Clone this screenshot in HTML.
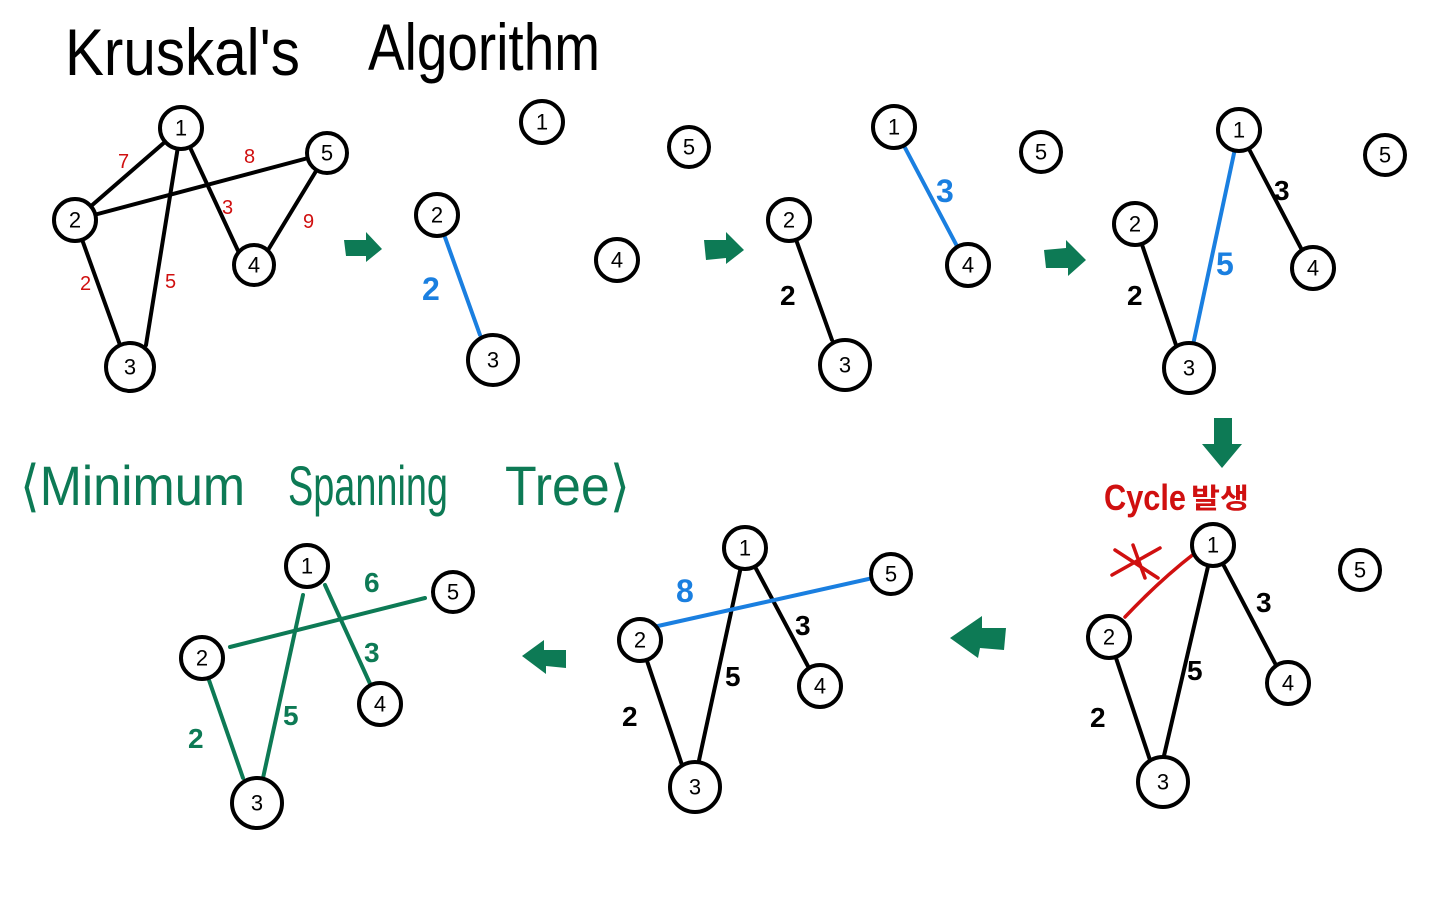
<!DOCTYPE html>
<html><head><meta charset="utf-8"><style>
html,body{margin:0;padding:0;background:#fff;}
svg{display:block}
text{font-family:"Liberation Sans","Noto Sans CJK KR",sans-serif;}
.n circle{fill:#fff;stroke:#000;stroke-width:4}
.n text{font-size:22px;text-anchor:middle;dominant-baseline:central;fill:#000}
.k{stroke:#000;stroke-width:4;fill:none;stroke-linecap:round}
.b{stroke:#1a7fe0;stroke-width:4;fill:none;stroke-linecap:round}
.g{stroke:#0d7a55;stroke-width:4;fill:none;stroke-linecap:round}
.r{stroke:#d01010;stroke-width:3.5;fill:none;stroke-linecap:round}
.lr{fill:#d01010;font-size:20px}
.lb{fill:#1a7fe0;font-size:32px;font-weight:bold}
.lk{fill:#000;font-size:28px;font-weight:bold}
.lg{fill:#0d7a55;font-size:28px;font-weight:bold}
.ar{fill:#0d7a55}
</style></head><body>
<svg width="1440" height="900" viewBox="0 0 1440 900" xmlns="http://www.w3.org/2000/svg">
<text x="65" y="75" font-size="66" fill="#000" textLength="235" lengthAdjust="spacingAndGlyphs">Kruskal's</text>
<text x="368" y="70" font-size="66" fill="#000" textLength="232" lengthAdjust="spacingAndGlyphs">Algorithm</text>

<!-- Graph 1 -->
<line class="k" x1="181" y1="128" x2="75" y2="220"/>
<line class="k" x1="75" y1="220" x2="327" y2="153"/>
<line class="k" x1="181" y1="128" x2="146" y2="345"/>
<line class="k" x1="181" y1="128" x2="240" y2="255"/>
<line class="k" x1="327" y1="153" x2="265" y2="255"/>
<line class="k" x1="75" y1="220" x2="120" y2="345"/>
<text class="lr" x="118" y="168">7</text><text class="lr" x="244" y="163">8</text>
<text class="lr" x="222" y="214">3</text><text class="lr" x="303" y="228">9</text>
<text class="lr" x="80" y="290">2</text><text class="lr" x="165" y="288">5</text>
<g class="n"><circle cx="181" cy="128" r="21"/><text x="181" y="128">1</text>
<circle cx="327" cy="153" r="20"/><text x="327" y="153">5</text>
<circle cx="75" cy="220" r="21"/><text x="75" y="220">2</text>
<circle cx="254" cy="265" r="20"/><text x="254" y="265">4</text>
<circle cx="130" cy="367" r="24"/><text x="130" y="367">3</text></g>

<path class="ar" d="M344 240 L366 240 L366 232 L382 249 L366 262 L366 256 L346 256 Z"/>

<!-- Graph 2 -->
<line class="b" x1="437" y1="215" x2="480" y2="335"/>
<text class="lb" x="422" y="300">2</text>
<g class="n"><circle cx="542" cy="122" r="21"/><text x="542" y="122">1</text>
<circle cx="689" cy="147" r="20"/><text x="689" y="147">5</text>
<circle cx="437" cy="215" r="21"/><text x="437" y="215">2</text>
<circle cx="617" cy="260" r="21"/><text x="617" y="260">4</text>
<circle cx="493" cy="360" r="25"/><text x="493" y="360">3</text></g>

<path class="ar" d="M704 240 L726 240 L726 232 L744 250 L726 264 L726 258 L706 260 Z"/>

<!-- Graph 3 -->
<line class="k" x1="789" y1="220" x2="832" y2="340"/>
<line class="b" x1="894" y1="127" x2="958" y2="248"/>
<text class="lk" x="780" y="305">2</text>
<text class="lb" x="936" y="202">3</text>
<g class="n"><circle cx="894" cy="127" r="21"/><text x="894" y="127">1</text>
<circle cx="1041" cy="152" r="20"/><text x="1041" y="152">5</text>
<circle cx="789" cy="220" r="21"/><text x="789" y="220">2</text>
<circle cx="968" cy="265" r="21"/><text x="968" y="265">4</text>
<circle cx="845" cy="365" r="25"/><text x="845" y="365">3</text></g>

<path class="ar" d="M1044 250 L1066 248 L1066 240 L1086 260 L1068 276 L1068 268 L1046 268 Z"/>

<!-- Graph 4 -->
<line class="k" x1="1135" y1="224" x2="1176" y2="345"/>
<line class="k" x1="1239" y1="130" x2="1303" y2="252"/>
<line class="b" x1="1239" y1="130" x2="1193" y2="345"/>
<text class="lk" x="1127" y="305">2</text>
<text class="lk" x="1274" y="200">3</text>
<text class="lb" x="1216" y="275">5</text>
<g class="n"><circle cx="1239" cy="130" r="21"/><text x="1239" y="130">1</text>
<circle cx="1385" cy="155" r="20"/><text x="1385" y="155">5</text>
<circle cx="1135" cy="224" r="21"/><text x="1135" y="224">2</text>
<circle cx="1313" cy="268" r="21"/><text x="1313" y="268">4</text>
<circle cx="1189" cy="368" r="25"/><text x="1189" y="368">3</text></g>

<path class="ar" d="M1214 418 L1232 418 L1232 444 L1242 444 L1222 468 L1202 444 L1214 444 Z"/>

<text x="1104" y="510" font-size="36" fill="#d01010" font-weight="bold" textLength="82" lengthAdjust="spacingAndGlyphs">Cycle</text>
<text x="1191" y="508" font-size="28" fill="#d01010" font-weight="bold" textLength="58" lengthAdjust="spacingAndGlyphs">발생</text>

<!-- Graph 5 -->
<path class="r" d="M1125 617 Q1160 580 1195 553"/>
<path class="r" d="M1115 550 L1158 578 M1112 575 L1160 548 M1133 545 L1145 578"/>
<line class="k" x1="1109" y1="637" x2="1150" y2="760"/>
<line class="k" x1="1213" y1="545" x2="1277" y2="667"/>
<line class="k" x1="1213" y1="545" x2="1163" y2="760"/>
<text class="lk" x="1090" y="727">2</text>
<text class="lk" x="1256" y="612">3</text>
<text class="lk" x="1187" y="680">5</text>
<g class="n"><circle cx="1213" cy="545" r="21"/><text x="1213" y="545">1</text>
<circle cx="1360" cy="570" r="20"/><text x="1360" y="570">5</text>
<circle cx="1109" cy="637" r="21"/><text x="1109" y="637">2</text>
<circle cx="1288" cy="683" r="21"/><text x="1288" y="683">4</text>
<circle cx="1163" cy="782" r="25"/><text x="1163" y="782">3</text></g>

<path class="ar" d="M1006 628 L982 628 L982 616 L950 638 L978 658 L980 648 L1004 650 Z"/>

<!-- Graph 6 -->
<line class="k" x1="640" y1="640" x2="682" y2="765"/>
<line class="k" x1="745" y1="548" x2="810" y2="670"/>
<line class="k" x1="745" y1="548" x2="698" y2="765"/>
<line class="b" x1="640" y1="630" x2="891" y2="574"/>
<text class="lb" x="676" y="602">8</text>
<text class="lk" x="622" y="726">2</text>
<text class="lk" x="795" y="635">3</text>
<text class="lk" x="725" y="686">5</text>
<g class="n"><circle cx="745" cy="548" r="21"/><text x="745" y="548">1</text>
<circle cx="891" cy="574" r="20"/><text x="891" y="574">5</text>
<circle cx="640" cy="640" r="21"/><text x="640" y="640">2</text>
<circle cx="820" cy="686" r="21"/><text x="820" y="686">4</text>
<circle cx="695" cy="787" r="25"/><text x="695" y="787">3</text></g>

<path class="ar" d="M566 650 L544 650 L544 640 L522 656 L546 674 L546 666 L566 668 Z"/>

<text x="20" y="505" font-size="56" fill="#0d7a55" textLength="225" lengthAdjust="spacingAndGlyphs">⟨Minimum</text>
<text x="288" y="505" font-size="56" fill="#0d7a55" textLength="160" lengthAdjust="spacingAndGlyphs">Spanning</text>
<text x="505" y="505" font-size="56" fill="#0d7a55" textLength="125" lengthAdjust="spacingAndGlyphs">Tree⟩</text>

<!-- Graph 7 -->
<line class="g" x1="202" y1="660" x2="243" y2="778"/>
<line class="g" x1="325" y1="585" x2="372" y2="688"/>
<line class="g" x1="303" y1="595" x2="263" y2="778"/>
<line class="g" x1="230" y1="647" x2="425" y2="598"/>
<text class="lg" x="364" y="592">6</text>
<text class="lg" x="364" y="662">3</text>
<text class="lg" x="283" y="725">5</text>
<text class="lg" x="188" y="748">2</text>
<g class="n"><circle cx="307" cy="566" r="21"/><text x="307" y="566">1</text>
<circle cx="453" cy="592" r="20"/><text x="453" y="592">5</text>
<circle cx="202" cy="658" r="21"/><text x="202" y="658">2</text>
<circle cx="380" cy="704" r="21"/><text x="380" y="704">4</text>
<circle cx="257" cy="803" r="25"/><text x="257" y="803">3</text></g>
</svg>
</body></html>
